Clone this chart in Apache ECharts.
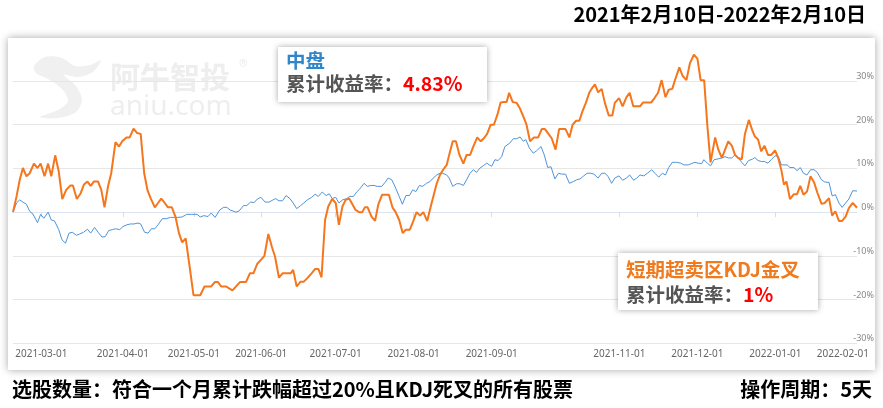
<!DOCTYPE html>
<html><head><meta charset="utf-8">
<script src="https://cdn.jsdelivr.net/npm/echarts@6/dist/echarts.min.js"></script>
<style>html,body{margin:0;padding:0;background:#fff;}#c{width:883px;height:408px;}</style>
</head><body><div id="c"></div>
<script>
const titleText = '2021年2月10日-2022年2月10日';
const footLeft = '选股数量：符合一个月累计跌幅超过20%且KDJ死叉的所有股票';
const footRight = '操作周期：5天';
const seriesNames = ['中盘', '短期超卖区KDJ金叉'];
const seriesReturns = ['4.83%', '1%'];
const returnLabel = '累计收益率：';
const totalDays = 238;
const monthLabels = ['2021-03-01','2021-04-01','2021-05-01','2021-06-01','2021-07-01','2021-08-01','2021-09-01','2021-11-01','2021-12-01','2022-01-01','2022-02-01'];
const monthIdx = [8,31,51,70,91,113,135,171,193,215,234];

// [trading-day index, cumulative return %]
const midcap = [[0,0],[1,2.1],[1.9,2.8],[2.8,2.3],[3.8,1.8],[4.7,0.2],[5.6,-0.4],[6.9,-2.4],[7.8,-0.5],[8.7,-1.4],[9.9,0],[10.8,-1.8],[11.7,-2.0],[12.9,-4.0],[13.8,-6.3],[14.8,-7.1],[15.8,-4.8],[16.7,-4.6],[17.9,-5.3],[18.8,-5.0],[19.9,-4.6],[21,-3.9],[21.9,-4.8],[23,-3.5],[24,-4.6],[25.1,-5.7],[26,-5.6],[27,-4.2],[28,-4.0],[28.9,-3.8],[30.1,-4.0],[31,-3.3],[32.1,-2.9],[33.1,-2.7],[34.1,-2.7],[35.2,-2.5],[36,-2.7],[37.1,-4.6],[38.1,-4.8],[39,-3.8],[40,-3.8],[40.9,-2.9],[42.1,-1.5],[43.2,-1.5],[44.4,-1.2],[45.6,-1.2],[46.5,-1.2],[47.7,-1.1],[49,-0.5],[50.3,-0.5],[51.9,-0.5],[52.8,-1.1],[53.8,-0.8],[55,-1.0],[55.9,-0.2],[57,-1.2],[58.3,0.5],[59.4,1.1],[60.3,1.1],[61.2,0.5],[62.9,0],[63.8,0.3],[65,1.5],[65.9,1.5],[67,2.3],[68,2.2],[68.9,3.0],[69.9,3.4],[71.1,2.3],[72.2,2.3],[73.1,2.7],[74.1,3.1],[75,2.6],[76,2.6],[77,3.8],[78.1,3.1],[79,2.1],[80,0.8],[81.1,1.5],[82,2.1],[83,2.8],[84.2,3.4],[85.2,4.1],[86.1,3.6],[87.2,4.6],[88.3,3.8],[89.2,4.2],[90,3.1],[91,3.4],[91.9,2.1],[92.9,2.8],[94.1,3.1],[95,3.6],[96,3.6],[96.9,4.6],[97.8,5.3],[99,6.6],[99.9,5.9],[100.9,6.1],[101.8,6.1],[102.7,5.9],[104,5.9],[104.9,6.8],[105.8,7.8],[106.8,7.4],[107.7,5.9],[108.9,3.6],[109.8,1.8],[110.8,3.8],[111.8,3.8],[112.7,5.1],[113.6,4.7],[114.6,6.1],[115.5,5.9],[116.6,6.6],[117.6,7.0],[118.5,7.8],[119.5,8.5],[120.4,8.9],[121.1,8.9],[122.3,8.5],[123,7.8],[124,5.9],[125.1,6.5],[126,6.5],[127,6.1],[127.9,7.4],[128.9,8.9],[129.8,9.7],[130.7,9.1],[131.7,10.1],[132.6,10.6],[133.6,11.2],[134.3,10.8],[135,10.5],[135.9,12.0],[136.8,11.8],[137.8,12.7],[138.7,15.0],[140.1,15.8],[141.1,16.8],[142,16.8],[143,17.2],[143.9,16.2],[144.6,16.6],[145.6,14.7],[146.7,13.5],[147.6,14.0],[148.9,15.0],[149.8,13.1],[150.8,10.2],[151.7,10.4],[152.8,7.6],[153.8,8.9],[154.7,8.7],[155.8,8.7],[156.9,6.6],[158,7.0],[158.9,7.4],[159.9,7.6],[160.8,8.2],[161.9,8.9],[162.9,8.9],[163.8,8.7],[165,7.8],[166,8.9],[166.9,8.9],[167.8,8.2],[168.8,6.6],[169.7,7.8],[170.9,8.3],[171.9,7.3],[173,7.8],[173.9,8.5],[175,7.3],[175.9,7.8],[176.8,8.5],[177.9,8.3],[178.9,8.9],[180.1,9.7],[181,8.9],[182.1,8.0],[183.1,8.9],[184,8.5],[184.9,10.2],[185.9,11.4],[187.1,11.4],[188.3,11.2],[189.2,10.8],[190.4,10.8],[191.3,11.1],[192.3,11.4],[193.2,11.2],[194.2,11.1],[194.8,12.0],[195.8,11.2],[196.7,10.6],[197.7,12.0],[198.9,12.2],[199.9,12.4],[200.8,12.7],[201.7,12.4],[202.7,12.4],[203.6,13.1],[204.5,12.4],[205.5,11.4],[206.4,10.6],[207.4,11.8],[208.5,12.1],[209.2,12.5],[210.1,11.8],[211,11.6],[211.9,11.6],[212.9,11.2],[213.8,12.0],[214.9,12.9],[215.8,12.7],[216.7,10.8],[217.4,10.8],[218.3,10.8],[219.1,10.2],[220.2,10.2],[221.1,9.5],[222,10.2],[222.9,8.9],[223.9,8.5],[224.9,9.7],[225.9,9.7],[226.8,9.1],[228,7.4],[228.9,6.9],[230.1,6.8],[231,3.7],[231.9,4.0],[232.9,2.1],[233.8,1.1],[234.8,2.1],[235.7,3.0],[236.8,4.9],[238,4.83]];

const kdjCross = [[0,0],[1,3.6],[1.9,7.4],[2.8,10.1],[3.8,8.2],[4.7,8.9],[5.9,11.1],[6.9,10.1],[7.8,11.1],[8.9,8.2],[9.9,11.1],[10.8,8.2],[11.9,13.0],[12.9,9.3],[13.9,3.0],[15,5.1],[16.2,6.1],[16.9,6.1],[18,3.0],[19,4.2],[20,6.3],[21,7.0],[21.9,6.0],[22.8,7.0],[24,7.0],[24.9,5.1],[25.8,1.1],[26.8,5.9],[27.7,8.9],[28.9,16.0],[29.9,15.0],[30.8,16.2],[32,17.1],[32.9,17.1],[34,19.1],[35,18.1],[36,17.9],[37,8.9],[37.9,5.1],[38.8,3.2],[40,1.1],[40.9,2.1],[41.8,3.1],[42.8,2.1],[43.7,1.1],[44.8,1.1],[45.8,-1.0],[46.8,-4.8],[47.7,-6.9],[48.7,-6.0],[49.8,-12.4],[50.9,-19.0],[51.9,-19.0],[52.8,-19.0],[54,-17.0],[55,-17.0],[55.9,-17.0],[56.9,-16.0],[57.8,-16.0],[58.7,-17.0],[60,-17.0],[61.9,-17.9],[63.1,-16.8],[64,-16.0],[65.7,-16.0],[66.8,-14.0],[67.8,-14.0],[68.9,-11.8],[69.9,-10.9],[70.9,-10.0],[72,-5.0],[73,-7.9],[73.9,-10.2],[75,-15.0],[76,-14.0],[77.2,-14.0],[78.3,-14.0],[79,-13.2],[80,-17.0],[81.1,-15.9],[82,-15.9],[83,-15.1],[84.2,-14.0],[85.2,-13.0],[86.1,-13.0],[87,-14.9],[88,-1.8],[88.9,1.3],[90,3.0],[91,2.1],[91.9,-2.9],[92.9,1.3],[93.8,2.8],[94.8,3.1],[95.7,1.8],[96.6,0.5],[97.6,0],[98.5,0],[99.2,1.1],[100,1.1],[101.1,-1.0],[102.1,-2.0],[103,1.7],[104.1,4.0],[105,4.0],[106,4.0],[107,1.1],[107.9,0],[108.9,-1.8],[109.9,-4.8],[110.8,-4.0],[111.9,-4.0],[112.9,-2.0],[113.8,0],[114.8,-0.8],[115.7,0],[116.8,-2.0],[117.8,1.3],[119.5,6.6],[120.4,8.5],[121.3,9.7],[122.3,10.8],[123,13.1],[124,16.2],[124.9,16.2],[125.9,13.1],[127,11.1],[127.9,13.1],[128.9,13.1],[129.8,15.0],[130.9,17.1],[131.9,16.2],[132.8,16.9],[133.7,17.9],[134.7,20.0],[135.6,20.0],[136.6,22.3],[137.5,25.1],[138.4,25.2],[139.2,25.2],[139.9,27.3],[140.9,25.2],[142,25.0],[142.9,23.8],[143.9,21.9],[144.8,20.0],[145.8,16.2],[146.9,17.1],[148.1,17.1],[149.1,19.0],[150,19.0],[151,17.9],[151.9,16.9],[153,14.3],[154,19.0],[154.9,19.0],[155.8,19.0],[156.9,17.1],[157.8,20.0],[158.8,20.9],[159.7,20.9],[160.6,23.1],[161.6,25.1],[162.5,27.3],[163.4,28.5],[164.1,29.2],[165,27.4],[166,28.2],[166.9,25.0],[168,22.1],[169,22.1],[169.7,25.0],[170.9,26.1],[171.9,24.2],[173,26.3],[173.9,27.3],[174.9,24.2],[175.8,24.2],[176.8,24.2],[177.7,25.1],[179.1,25.1],[180,25.1],[180.9,26.1],[181.9,27.3],[182.9,30.2],[184,26.3],[184.9,28.0],[185.9,28.2],[186.8,30.5],[187.9,33.1],[188.8,31.2],[189.9,30.2],[190.9,34.1],[192,36.0],[193,35.1],[193.9,30.2],[194.9,30.2],[195.8,19.8],[196.7,11.4],[198,17.1],[198.9,14.3],[199.9,12.4],[200.8,14.3],[201.7,16.2],[202.7,15.2],[203.6,13.1],[204.5,12.4],[205.5,12.1],[206.4,17.9],[207.5,21.1],[208.4,18.9],[209.2,17.3],[210.1,16.6],[211,13.9],[211.9,15.2],[212.9,13.1],[213.8,13.1],[214.9,14.1],[215.8,12.4],[216.7,9.5],[217.4,6.3],[218.1,7.0],[219.1,3.0],[220.2,4.1],[221.1,4.1],[222,6.0],[222.9,4.0],[223.9,4.7],[224.9,8.2],[225.9,6.8],[226.8,4.5],[228,1.9],[228.9,2.1],[230.1,3.2],[231,-0.8],[231.9,0.2],[232.9,-2.0],[233.8,-2.0],[234.8,-1.0],[235.7,0.9],[236.8,2.1],[238,1.0]];

const CJK = '"Noto Sans CJK SC", "Microsoft YaHei", sans-serif';
const chart = echarts.init(document.getElementById('c'), null, {renderer: 'canvas'});
const labelMap = {};
monthIdx.forEach((v, i) => { labelMap[v] = monthLabels[i]; });
const legendFont = 'bold 19.5px ' + CJK;

chart.setOption({
  animation: false,
  backgroundColor: '#fff',
  grid: {left: 13, right: 26, top: 81, bottom: 64.7, containLabel: false},
  xAxis: {
    type: 'value', min: 0, max: totalDays,
    axisLine: {show: true, lineStyle: {color: '#dde4f0', width: 1}},
    axisTick: {show: true, customValues: monthIdx, length: 5, lineStyle: {color: '#d6deec'}},
    axisLabel: {customValues: monthIdx, formatter: v => labelMap[v] || '', color: '#666', fontSize: 10, margin: 6, fontFamily: '"Noto Sans", sans-serif'},
    splitLine: {show: false}
  },
  yAxis: {
    type: 'value', position: 'right', min: -30, max: 30, interval: 10,
    axisLine: {show: false}, axisTick: {show: false},
    axisLabel: {formatter: v => v + '%', align: 'right', verticalAlign: 'bottom', margin: 17, color: '#888', fontSize: 9, fontFamily: '"Noto Sans", sans-serif'},
    splitLine: {lineStyle: {color: '#e6e6e6', width: 1}}
  },
  series: [
    {name: seriesNames[0], type: 'line', data: midcap, showSymbol: false, clip: false, z: 3,
     lineStyle: {color: '#4f94d8', width: 1}},
    {name: seriesNames[1], type: 'line', data: kdjCross, showSymbol: false, clip: false, z: 4,
     lineStyle: {color: '#f5761c', width: 2}}
  ],
  graphic: [
    {type: 'rect', z: -10, shape: {x: 8, y: 38, width: 867, height: 332},
     style: {fill: '#fff', shadowBlur: 8, shadowColor: 'rgba(0,0,0,0.35)'}},
    // watermark
    {type: 'polygon', z: -5, shape: {smooth: 0.3, points: [[34,66],[45,57],[62,58],[75,66],[90,65],[101,60],[93,72],[78,77],[64,75],[76,86],[82,100],[76,112],[58,118],[40,117],[58,110],[68,101],[62,89],[48,79],[36,73]]},
     style: {fill: '#f0f0f0'}},
    {type: 'text', z: -5, x: 110, y: 77, style: {text: '阿牛智投', font: 'bold 30px ' + CJK, fill: '#eeeeee', verticalAlign: 'middle'}},
    {type: 'text', z: -5, x: 239, y: 66, style: {text: '®', font: '18px ' + CJK, fill: '#eeeeee', verticalAlign: 'middle'}},
    {type: 'text', z: -5, x: 110, y: 107, style: {text: 'aniu.com', font: '28px "Noto Sans", sans-serif', fill: '#eeeeee', verticalAlign: 'middle'}},
    // titles
    {type: 'text', x: 866, y: 14, style: {text: titleText, font: 'bold 20px ' + CJK, fill: '#000', align: 'right', verticalAlign: 'middle'}},
    {type: 'text', x: 12, y: 389, style: {text: footLeft, font: 'bold 20px ' + CJK, fill: '#000', align: 'left', verticalAlign: 'middle'}},
    {type: 'text', x: 872, y: 389, style: {text: footRight, font: 'bold 20px ' + CJK, fill: '#000', align: 'right', verticalAlign: 'middle'}},
    // legend box 1
    {type: 'rect', z: 20, shape: {x: 278, y: 47, width: 209, height: 55},
     style: {fill: '#fff', shadowBlur: 6, shadowColor: 'rgba(0,0,0,0.35)'}},
    {type: 'text', z: 21, x: 286, y: 61, style: {text: seriesNames[0], font: legendFont, fill: '#2f86c9', verticalAlign: 'middle'}},
    {type: 'text', z: 21, x: 286, y: 84, style: {text: '{a|' + returnLabel + '}{b|' + seriesReturns[0] + '}', verticalAlign: 'middle',
      rich: {a: {font: legendFont, fill: '#555'}, b: {font: legendFont, fill: '#ff0000'}}}},
    // legend box 2
    {type: 'rect', z: 20, shape: {x: 618, y: 253, width: 200, height: 57},
     style: {fill: '#fff', shadowBlur: 6, shadowColor: 'rgba(0,0,0,0.35)'}},
    {type: 'text', z: 21, x: 626, y: 270, style: {text: seriesNames[1], font: legendFont, fill: '#f07a1e', verticalAlign: 'middle'}},
    {type: 'text', z: 21, x: 626, y: 295, style: {text: '{a|' + returnLabel + '}{b|' + seriesReturns[1] + '}', verticalAlign: 'middle',
      rich: {a: {font: legendFont, fill: '#555'}, b: {font: legendFont, fill: '#ff0000'}}}}
  ]
});
</script></body></html>
